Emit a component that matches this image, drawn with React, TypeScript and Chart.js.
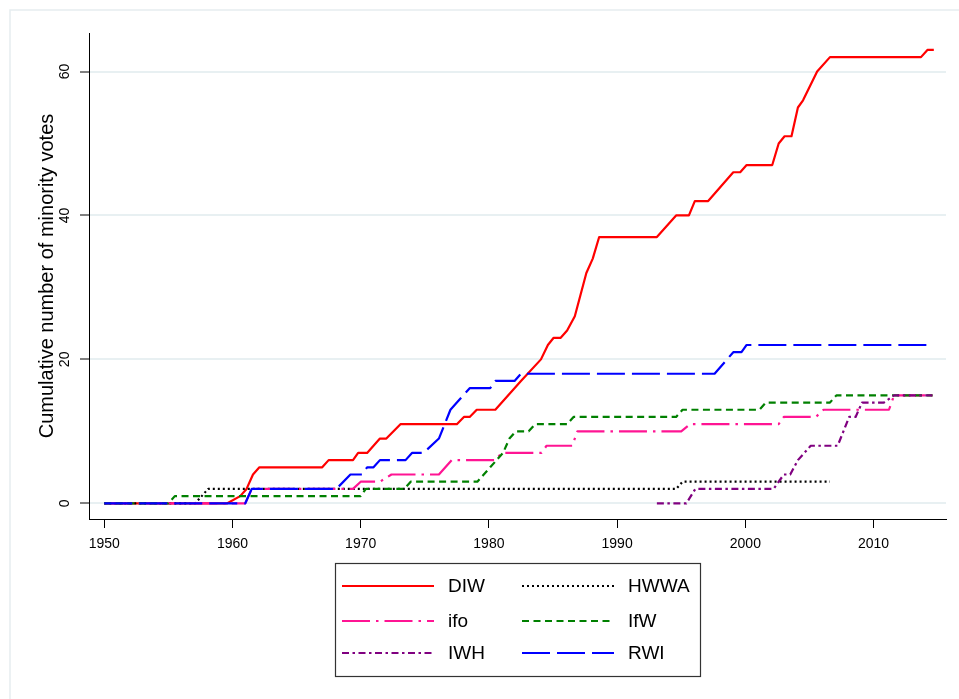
import React, { useEffect, useRef } from 'react';
import { Chart, registerables } from 'chart.js';

Chart.register(...registerables);

const FONT = "'Liberation Sans', Arial, Helvetica, sans-serif";

const xTicks = [1950, 1960, 1970, 1980, 1990, 2000, 2010];
const yTicks = [0, 20, 40, 60];
const yTitle = 'Cumulative number of minority votes';

const diwYears = [1950, 1959.6, 1960.6, 1961.1, 1961.6, 1962.1, 1967.0, 1967.5, 1969.4, 1969.8, 1970.5, 1971.5, 1972.0, 1973.1, 1977.5, 1978.05, 1978.5, 1979.05, 1980.5, 1982.5, 1984.06, 1984.6, 1985.05, 1985.6, 1986.1, 1986.7, 1987.6, 1988.1, 1988.6, 1993.1, 1994.6, 1995.6, 1996.06, 1997.1, 1999.06, 1999.6, 2000.1, 2002.1, 2002.6, 2003.06, 2003.6, 2004.1, 2004.5, 2005.6, 2006.6, 2013.7, 2014.2, 2014.7];
const diwVotes = [0, 0, 1, 2, 4, 5, 5, 6, 6, 7, 7, 9, 9, 11, 11, 12, 12, 13, 13, 17, 20, 22, 23, 23, 24, 26, 32, 34, 37, 37, 40, 40, 42, 42, 46, 46, 47, 47, 50, 51, 51, 55, 56, 60, 62, 62, 63, 63];

const hwwaYears = [1950, 1957.1, 1958.1, 1994.6, 1995.1, 2006.6];
const hwwaVotes = [0, 0, 2, 2, 3, 3];

const ifoYears = [1950, 1961.0, 1961.5, 1969.4, 1970.0, 1971.5, 1972.4, 1976.1, 1977.1, 1980.5, 1981.0, 1984.1, 1984.5, 1986.5, 1986.9, 1995.0, 1995.7, 2002.6, 2003.0, 2005.5, 2006.1, 2011.2, 2011.6, 2014.6];
const ifoVotes = [0, 0, 2, 2, 3, 3, 4, 4, 6, 6, 7, 7, 8, 8, 10, 10, 11, 11, 12, 12, 13, 13, 15, 15];

const ifwYears = [1950, 1955.0, 1955.5, 1970.0, 1970.4, 1973.4, 1973.9, 1979.1, 1979.6, 1980.1, 1980.6, 1981.1, 1981.6, 1982.1, 1983.1, 1983.6, 1986.1, 1986.6, 1994.6, 1995.1, 2001.1, 2001.6, 2006.6, 2007.1, 2014.6];
const ifwVotes = [0, 0, 1, 1, 2, 2, 3, 3, 4, 5, 6, 7, 9, 10, 10, 11, 11, 12, 12, 13, 13, 14, 14, 15, 15];

const iwhYears = [1993.1, 1995.4, 1996.1, 2002.2, 2003.0, 2003.5, 2004.1, 2004.6, 2005.1, 2007.2, 2008.1, 2008.6, 2009.1, 2010.8, 2011.6, 2014.6];
const iwhVotes = [0, 0, 2, 2, 4, 4, 6, 7, 8, 8, 12, 12, 14, 14, 15, 15];

const rwiYears = [1950, 1961.0, 1961.5, 1968.1, 1969.2, 1970.1, 1970.5, 1971.0, 1971.5, 1973.5, 1974.0, 1974.9, 1976.1, 1977.0, 1977.5, 1978.5, 1980.1, 1980.5, 1982.0, 1982.5, 1997.6, 1999.06, 1999.7, 2000.1, 2014.6];
const rwiVotes = [0, 0, 2, 2, 4, 4, 5, 5, 6, 6, 7, 7, 9, 13, 14, 16, 16, 17, 17, 18, 18, 21, 21, 22, 22];

const toPoints = (xs: number[], ys: number[]) => xs.map((x, i) => ({ x, y: ys[i] }));

const frameAndLegend = {
  id: 'frameAndLegend',
  beforeDraw(chart: any) {
    const ctx = chart.ctx;
    ctx.save();
    ctx.fillStyle = '#ffffff';
    ctx.fillRect(0, 0, chart.width, chart.height);
    ctx.strokeStyle = '#e6edf0';
    ctx.lineWidth = 1.5;
    ctx.strokeRect(10, 10, chart.width + 20, chart.height + 20);
    ctx.restore();
  },
  afterDraw(chart: any) {
    const ctx = chart.ctx;
    const ca = chart.chartArea;
    const w = 365;
    const h = 113;
    const left = Math.round((ca.left + ca.right) / 2 - w / 2);
    const top = 563;
    ctx.save();
    ctx.strokeStyle = '#333333';
    ctx.lineWidth = 1.2;
    ctx.strokeRect(left + 0.5, top + 0.5, w, h);
    const rows = [23, 58, 90];
    ctx.font = `19px ${FONT}`;
    ctx.textBaseline = 'middle';
    ctx.textAlign = 'left';
    chart.data.datasets.forEach((ds: any, i: number) => {
      const col = i % 2;
      const row = Math.floor(i / 2);
      const lx = left + 7 + col * 180;
      const y = top + rows[row];
      ctx.save();
      ctx.strokeStyle = ds.borderColor;
      ctx.lineWidth = ds.borderWidth;
      ctx.setLineDash(ds.borderDash || []);
      ctx.beginPath();
      ctx.moveTo(lx, y);
      ctx.lineTo(lx + 92, y);
      ctx.stroke();
      ctx.restore();
      ctx.fillStyle = '#000000';
      ctx.fillText(ds.label, lx + 106, y + 1);
    });
    ctx.restore();
  },
};

export default function App() {
  const ref = useRef<HTMLCanvasElement | null>(null);

  useEffect(() => {
    if (!ref.current) return;
    const mk = (label: string, xs: number[], ys: number[], color: string, dash: number[], order: number) => ({
      label,
      data: toPoints(xs, ys),
      borderColor: color,
      backgroundColor: color,
      borderWidth: 2.2,
      borderDash: dash,
      borderCapStyle: 'butt',
      borderJoinStyle: 'round',
      pointRadius: 0,
      tension: 0,
      fill: false,
      order,
    });
    const chart = new Chart(ref.current, {
      type: 'line',
      data: {
        datasets: [
          mk('DIW', diwYears, diwVotes, '#ff0000', [], 6),
          mk('HWWA', hwwaYears, hwwaVotes, '#000000', [2, 3], 5),
          mk('ifo', ifoYears, ifoVotes, '#ff1493', [28, 6, 2.5, 6], 4),
          mk('IfW', ifwYears, ifwVotes, '#008000', [7, 4.5], 3),
          mk('IWH', iwhYears, iwhVotes, '#800080', [7, 3.5, 2.5, 3.5], 2),
          mk('RWI', rwiYears, rwiVotes, '#0000ff', [28, 7], 1),
        ] as any,
      },
      options: {
        animation: false,
        responsive: false,
        devicePixelRatio: 1,
        layout: { padding: { left: 10, top: 33, right: 13, bottom: 0 } },
        plugins: {
          legend: { display: false },
          tooltip: { enabled: false },
        },
        scales: {
          x: {
            type: 'linear',
            min: 1948.81,
            max: 2015.65,
            afterBuildTicks: (s: any) => { s.ticks = xTicks.map((v) => ({ value: v })); },
            afterFit: (s: any) => { s.height = 180; },
            border: { display: true, color: '#000000', width: 1 },
            grid: { drawOnChartArea: false, tickLength: 9, tickColor: '#000000', tickWidth: 1 },
            ticks: {
              color: '#000000',
              font: { family: FONT, size: 14 },
              padding: 8,
              maxRotation: 0,
              minRotation: 0,
              callback: (v: any) => String(v),
            },
          },
          y: {
            type: 'linear',
            min: -2.18,
            max: 65.35,
            afterBuildTicks: (s: any) => { s.ticks = yTicks.map((v) => ({ value: v })); },
            afterFit: (s: any) => { s.width = 79; },
            border: { display: true, color: '#000000', width: 1 },
            grid: { color: '#e8f0f2', lineWidth: 2, tickLength: 9, tickColor: '#000000', tickWidth: 1 },
            ticks: {
              color: '#000000',
              font: { family: FONT, size: 14 },
              padding: 7,
              minRotation: 90,
              maxRotation: 90,
              crossAlign: 'center',
              callback: (v: any) => String(v),
            },
            title: {
              display: true,
              text: yTitle,
              color: '#000000',
              font: { family: FONT, size: 20 },
              padding: { top: 25, bottom: 0 },
            },
          },
        },
      },
      plugins: [frameAndLegend],
    } as any);
    return () => chart.destroy();
  }, []);

  return (
    <div style={{ position: 'fixed', left: 0, top: 0, width: 959, height: 699 }}>
      <canvas ref={ref} width={959} height={699} style={{ width: 959, height: 699, display: 'block' }} />
    </div>
  );
}
